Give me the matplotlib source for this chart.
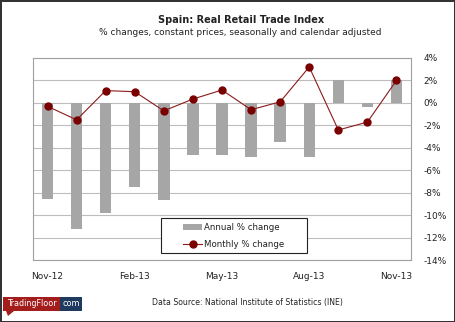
import numpy as np
import matplotlib
matplotlib.use("Agg")
import matplotlib.pyplot as plt
from matplotlib.patches import Rectangle, Polygon

# ── Data: Spain real retail trade index, % changes ───────────────────────────
months = ["Nov-12", "Dec-12", "Jan-13", "Feb-13", "Mar-13", "Apr-13", "May-13",
          "Jun-13", "Jul-13", "Aug-13", "Sep-13", "Oct-13", "Nov-13"]
annual = [-8.5, -11.2, -9.8, -7.5, -8.6, -4.6, -4.6, -4.8, -3.5, -4.8, 2.05, -0.35, 2.0]
monthly = [-0.3, -1.5, 1.1, 1.0, -0.7, 0.35, 1.15, -0.6, 0.1, 3.2, -2.4, -1.7, 2.0]
yticks = [4, 2, 0, -2, -4, -6, -8, -10, -12, -14]

FONT = "DejaVu Sans"
plt.rcParams['font.family'] = FONT

fig = plt.figure(figsize=(4.55, 3.22), dpi=100)
fig.patch.set_facecolor("white")
fig.patch.set_edgecolor("#333333")
fig.patch.set_linewidth(2)

ax = fig.add_axes([0.0725, 0.191, 0.8308, 0.629])
x = np.arange(len(months))

bars = ax.bar(x, annual, width=0.39, color="#a6a6a6", label="Annual % change", zorder=2)
line, = ax.plot(x, monthly, color="#8b1a1a", linewidth=0.8, marker="o", markersize=5,
                markerfacecolor="#7a0000", markeredgecolor="#7a0000",
                label="Monthly % change", zorder=3)

ax.set_xlim(-0.5, len(months) - 0.5)
ax.set_ylim(-14, 4)
ax.set_yticks(yticks)
ax.set_yticklabels([f"{v}%" for v in yticks])
ax.yaxis.tick_right()
ax.tick_params(axis="y", length=0, pad=9, labelsize=6.5, labelcolor="#222222")
ax.set_xticks(x[::3])
ax.set_xticklabels(months[::3])
ax.tick_params(axis="x", length=0, pad=8, labelsize=6.5, labelcolor="#222222")
for lbl in ax.get_yticklabels():
    lbl.set_horizontalalignment("left")

ax.grid(axis="y", color="#bdbdbd", linewidth=0.8, zorder=0)
ax.set_axisbelow(True)
for s in ax.spines.values():
    s.set_color("#a0a0a0")
    s.set_linewidth(0.8)

# legend: fixed white box, entries centred inside it
lx0, ly0, lw, lh = 0.338, 0.036, 0.386, 0.172
ax.add_patch(Rectangle((lx0, ly0), lw, lh, transform=ax.transAxes,
                       facecolor="white", edgecolor="#222222", linewidth=0.8, zorder=4))
leg = ax.legend([bars, line], ["Annual % change", "Monthly % change"],
                loc="center", bbox_to_anchor=(lx0 + lw / 2, ly0 + lh / 2),
                fontsize=6.2, frameon=False, handlelength=2.2, borderpad=0.2,
                labelspacing=0.9, handletextpad=0.2)
leg.set_zorder(5)
for t in leg.get_texts():
    t.set_color("#222222")

# titles
fig.text(0.53, 0.937, "Spain: Real Retail Trade Index", ha="center", va="center",
         fontsize=7, fontweight="bold", color="#222222")
fig.text(0.528, 0.900, "% changes, constant prices, seasonally and calendar adjusted",
         ha="center", va="center", fontsize=6.5, color="#222222")

fig.text(0.543, 0.062, "Data Source: National Institute of Statistics (INE)",
         ha="center", va="center", fontsize=5.6, color="#222222")

# TradingFloor badge, bottom left
W, H = 455.0, 322.0
def box(x0, y0, x1, y1, color):
    fig.patches.append(Rectangle((x0 / W, 1 - y1 / H), (x1 - x0) / W, (y1 - y0) / H,
                                 transform=fig.transFigure, facecolor=color,
                                 edgecolor="none"))
box(3, 297, 60, 311, "#a31d1d")
box(60, 297, 82, 311, "#1f3a5f")
fig.patches.append(Polygon([(6 / W, 1 - 311 / H), (14 / W, 1 - 311 / H), (8 / W, 1 - 316 / H)],
                           closed=True, transform=fig.transFigure,
                           facecolor="#a31d1d", edgecolor="none"))
fig.text(31.5 / W, 1 - 304 / H, "TradingFloor", ha="center", va="center",
         fontsize=5.8, color="white")
fig.text(71 / W, 1 - 304 / H, "com", ha="center", va="center",
         fontsize=5.8, color="white")

fig.savefig("out.png", dpi=100)
